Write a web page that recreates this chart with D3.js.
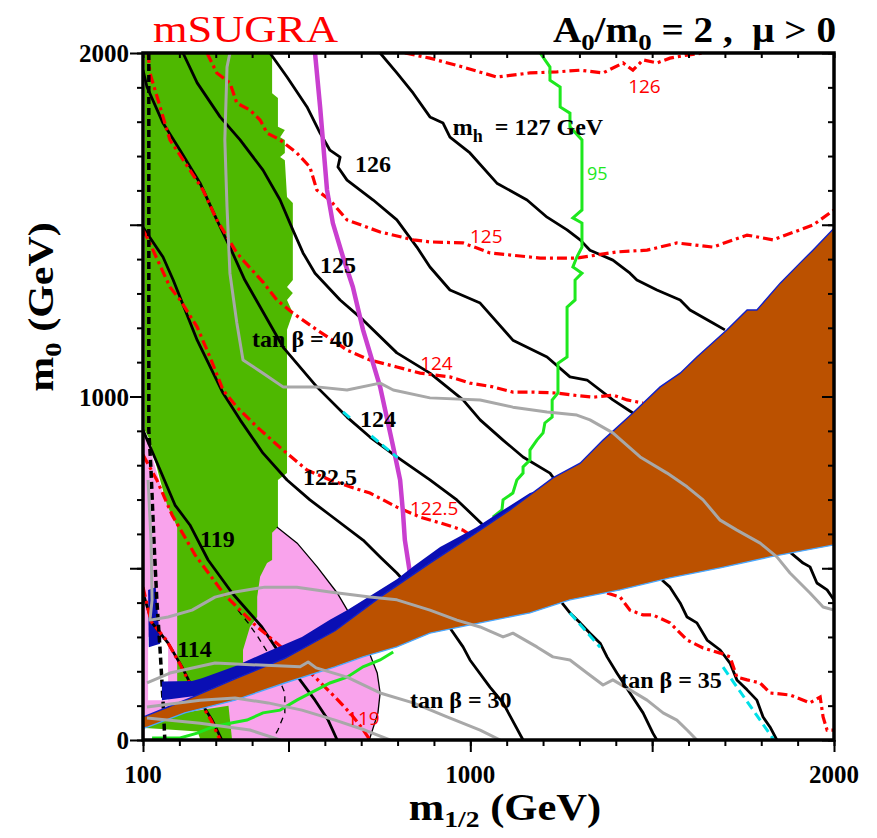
<!DOCTYPE html>
<html><head><meta charset="utf-8">
<script src="https://cdn.jsdelivr.net/npm/d3@7"></script>
<style>
html,body{margin:0;padding:0;background:#fff;}
svg{display:block;}
text{white-space:pre;}
</style></head><body>
<svg id="chart" width="877" height="838"></svg>
<script>
// ---------------- DATA (m1/2 [GeV], m0 [GeV]) ----------------
const xMinorTicks = [100,200,300,400,500,600,700,800,900,1000,1100,1200,1300,1400,1500,1600,1700,1800,1900,2000];
const yMinorTicks = [0,100,200,300,400,500,600,700,800,900,1000,1100,1200,1300,1400,1500,1600,1700,1800,1900,2000];
const xMajorTicks = [100,500,1000,1500,2000];
const yMajorTicks = [0,500,1000,1500,2000];
const xTickLabels = [100,1000,2000];
const yTickLabels = [0,1000,2000];

const greenRegion = [[105,2000],[455,2000],[455,1883],[471,1869],[471,1785],[490,1776],[477,1755],[490,1747],[490,1709],[477,1697],[490,1688],[496,1581],[512,1563],[512,1339],[496,1319],[512,1301],[496,1281],[512,1243],[496,1194],[496,777],[471,757],[471,620],[455,603],[455,524],[441,515],[422,475],[414,416],[414,358],[394,329],[375,262],[375,218],[194,146],[194,620],[166,684],[147,757],[119,873],[105,902]];
const greenBottom = [[105,62],[335,100],[345,0],[105,0]];
const pinkRegion = [[100,905],[116,860],[135,790],[160,700],[185,640],[300,625],[468,620],[524,573],[579,504],[634,428],[678,349],[716,271],[744,195],[752,137],[746,79],[724,6],[722,0],[100,0]];
const pinkBoundary = [[468,620],[524,573],[579,504],[634,428],[678,349],[716,271],[744,195],[752,137],[746,79],[724,6],[722,0]];
const whiteLeft = [[114,300],[169,290],[169,116],[114,116]];
const whiteBottom = [[105,35],[150,32],[250,25],[258,0],[105,0]];
const blueStrip = [[114,437],[135,445],[147,280],[116,270]];
const blueTop = [[1192,728],[1164,719],[1073,658],[1018,620],[963,588],[917,562],[843,505],[798,468],[733,425],[661,378],[614,350],[537,300],[444,258],[353,215],[262,180],[235,172],[152,170],[152,116]];
const brownUpper = [[100,68],[108,70],[169,96],[243,128],[353,178],[490,238],[628,318],[752,416],[889,515],[999,591],[1109,670],[1227,763],[1302,806],[1365,873],[1447,952],[1522,1028],[1577,1068],[1623,1115],[1706,1194],[1761,1252],[1788,1252],[1852,1330],[1907,1389],[1942,1426],[2000,1490]];
const brownLower = [[2000,568],[1824,533],[1687,501],[1549,472],[1412,437],[1274,408],[1164,370],[1027,341],[889,311],[798,271],[705,242],[628,213],[490,166],[353,116],[215,79],[114,38],[100,34]];

// black m_h contours
const mh127 = [[752,2000],[798,1942],[843,1883],[889,1814],[925,1796],[944,1755],[999,1709],[1073,1621],[1156,1572],[1211,1522],[1266,1485],[1302,1456],[1329,1426],[1392,1397],[1439,1359],[1458,1339],[1513,1310],[1577,1281],[1604,1252],[1667,1214],[1700,1194]];
const mh126 = [[449,2000],[496,1930],[551,1843],[587,1767],[614,1717],[642,1697],[636,1668],[661,1630],[733,1572],[798,1514],[853,1435],[889,1377],[944,1310],[1027,1272],[1117,1164],[1211,1115],[1274,1057],[1321,1048],[1392,990],[1447,952]];
const mh126b = [[1879,547],[1915,515],[1934,504],[1953,457],[1981,437],[2000,408]];
const mh125 = [[210,2000],[249,1913],[312,1814],[367,1747],[430,1659],[477,1572],[512,1485],[540,1418],[573,1359],[642,1281],[705,1223],[798,1127],[889,1068],[980,990],[1027,932],[1090,873],[1145,824],[1219,777],[1233,757]];
const mh125b = [[1527,466],[1549,445],[1577,399],[1596,358],[1623,341],[1651,291],[1687,262],[1714,224],[1733,175],[1761,146],[1788,116],[1805,67],[1824,38],[1843,0]];
const mh124 = [[100,1950],[111,1901],[155,1796],[202,1717],[257,1621],[303,1514],[339,1435],[380,1339],[485,1144],[578,1028],[661,940],[724,882],[798,824],[889,757],[963,699],[1035,626]];
const mh124b = [[1252,399],[1274,370],[1302,341],[1329,311],[1357,282],[1376,242],[1403,195],[1439,137],[1475,79],[1502,20],[1513,0]];
const mh122 = [[100,1493],[155,1406],[183,1339],[249,1164],[320,1010],[367,932],[430,835],[496,757],[559,699],[614,655],[705,582],[752,533],[798,486],[820,460]];
const mh122b = [[944,326],[980,271],[999,233],[1054,154],[1090,108],[1145,0]];
const mh119 = [[100,902],[147,786],[188,684],[229,626],[279,524],[345,428],[427,329],[482,242],[526,183],[573,116],[609,58],[634,0]];
const mh114 = [[100,428],[125,341],[169,282],[207,213],[243,137],[290,58],[317,0]];

// red (second code) m_h contours
const rd126 = [[820,2000],[889,1985],[980,1959],[1073,1930],[1164,1942],[1238,1945],[1302,1950],[1365,1942],[1420,1971],[1447,1950],[1475,1980],[1513,1971],[1549,1985],[1596,1994],[1640,2000]];
const rd125 = [[276,2000],[303,1942],[339,1913],[358,1854],[394,1834],[422,1805],[441,1767],[477,1747],[523,1709],[559,1668],[578,1601],[614,1572],[661,1514],[752,1479],[843,1456],[889,1450],[980,1447],[1054,1418],[1192,1403],[1293,1403],[1403,1421],[1486,1426],[1568,1447],[1667,1435],[1761,1470],[1832,1456],[1942,1499],[2000,1543]];
const rd124 = [[114,2000],[119,1942],[147,1843],[174,1747],[229,1659],[265,1601],[303,1514],[358,1418],[380,1391],[430,1333],[468,1281],[512,1243],[578,1194],[633,1156],[661,1135],[724,1106],[798,1086],[862,1068],[944,1057],[999,1039],[1062,1028],[1117,1013],[1172,1013],[1238,1010],[1282,1004],[1337,998],[1392,1004],[1431,990],[1475,981]];
const rd124b = [[1376,428],[1412,416],[1439,378],[1475,364],[1502,364],[1549,341],[1596,291],[1640,268],[1687,253],[1714,242],[1733,183],[1761,175],[1797,166],[1824,137],[1879,131],[1934,108],[1962,125],[1970,67],[1981,29],[2000,29]];
const rd122 = [[100,1485],[111,1464],[174,1319],[202,1281],[249,1202],[284,1115],[320,1019],[358,969],[414,911],[485,844],[551,786],[614,757],[669,737],[724,719],[798,678],[862,649],[917,632],[980,611],[1007,591]];
const rd119 = [[100,830],[138,757],[180,655],[243,539],[325,422],[408,335],[490,262],[573,183],[628,125],[669,79],[702,35],[724,0]];
const rd114 = [[100,445],[122,345],[165,290],[203,218],[240,140],[287,58],[312,0]];

// tan beta contours (grey)
const tb40 = [[339,2000],[331,1959],[325,1747],[331,1552],[339,1359],[358,1214],[375,1106],[430,1068],[485,1028],[578,1028],[661,1019],[752,1039],[788,1019],[889,996],[1027,990],[1117,969],[1211,955],[1293,946],[1329,932],[1392,894],[1467,824],[1541,777],[1596,737],[1640,699],[1687,640],[1733,611],[1797,573],[1843,533],[1879,486],[1934,428],[1970,387],[2000,378]];
const tb35 = [[114,757],[122,582],[125,408],[119,349],[169,358],[235,378],[298,416],[353,431],[435,445],[523,445],[614,431],[724,416],[798,408],[889,378],[963,349],[1027,329],[1090,300],[1117,311],[1183,271],[1227,242],[1274,233],[1321,195],[1365,160],[1392,175],[1439,146],[1486,116],[1530,79],[1568,58],[1596,29],[1623,0]];
const tb30 = [[111,166],[174,195],[298,224],[422,218],[532,213],[554,227],[576,210],[661,183],[752,137],[843,108],[936,67],[1027,29],[1082,0]];
const tbLow1 = [[111,96],[257,116],[353,122],[444,108],[537,87],[628,58],[710,29],[779,0]];
const tbLow2 = [[111,64],[257,49],[394,29],[477,0]];

// other constraint curves
const line95 = [[1192,2000],[1219,1959],[1219,1921],[1247,1901],[1247,1843],[1274,1825],[1274,1785],[1307,1747],[1307,1543],[1282,1520],[1307,1505],[1307,1435],[1293,1406],[1282,1377],[1307,1359],[1288,1339],[1288,1281],[1266,1260],[1266,1115],[1241,1097],[1241,1010],[1225,990],[1225,940],[1205,923],[1200,894],[1183,873],[1164,844],[1164,815],[1145,795],[1145,777],[1128,757],[1117,719],[1090,699],[1087,670],[1062,649]];
const line95b = [[788,256],[752,233],[705,213],[661,183],[614,166],[523,116],[477,87],[430,79],[386,58],[339,49],[292,38],[249,20],[202,6],[125,6]];
const magentaCurve = [[573,2000],[587,1843],[606,1601],[622,1505],[650,1406],[677,1319],[705,1194],[752,1028],[788,853],[807,757],[815,661],[820,582],[834,486]];
const cyanSegments = [[[650,955],[672,935]],[[728,885],[800,822]],[[1274,370],[1357,270]],[[1695,212],[1835,0]]];
const thinDashed = [[361,378],[389,341],[416,300],[444,253],[490,137],[490,79],[471,29],[455,0]];
const thickDashed = [[116,2000],[116,902],[122,786],[130,582],[138,408],[147,262],[155,116],[160,0]];

// labels: text with anchor (m1/2, m0)
const blackLabels = [["126",683,1653],["125",587,1359],["124",697,911],["122.5",540,742],["119",257,562],["114",194,242]];
const redLabels = [["126",1434,1883],["125",999,1447],["124",862,1077],["122.5",834,655],["119",661,44]];
const greenLabel = ["95",1321,1630];
const tanbLabels = [["40",400,1144],["30",834,93],["35",1412,151]];
const mhLabel = ["127",952,1761];

// ---------------- DRAWING ----------------
const svg = d3.select("#chart");
const x = d3.scaleLinear().domain([100,2000]).range([143,834]);
const y = d3.scaleLinear().domain([0,2000]).range([740,53]);
const line = d3.line().x(d=>x(d[0])).y(d=>y(d[1]));
const poly = pts => line(pts) + "Z";
const SERIF = "'Liberation Serif','Times New Roman',serif";
const SANS = "'Open Sans','Liberation Sans',sans-serif";

svg.append("defs").append("clipPath").attr("id","clip")
  .append("rect").attr("x",x(100)).attr("y",y(2000)).attr("width",x(2000)-x(100)).attr("height",y(0)-y(2000));
const plot = svg.append("g").attr("clip-path","url(#clip)");

// regions
plot.append("path").attr("d",poly(pinkRegion)).attr("fill","#f9a3ec");
plot.append("path").attr("d",poly(greenRegion)).attr("fill","#4eb800");
plot.append("path").attr("d",poly(greenBottom)).attr("fill","#4eb800");
plot.append("path").attr("d",poly(whiteLeft)).attr("fill","#ffffff");
plot.append("path").attr("d",poly(whiteBottom)).attr("fill","#ffffff");
plot.append("path").attr("d",poly(blueStrip)).attr("fill","#0a0fb0");
plot.append("path").attr("d",line(pinkBoundary)).attr("fill","none").attr("stroke","#000").attr("stroke-width",1.3);
plot.append("path").attr("d",line(thinDashed)).attr("fill","none").attr("stroke","#000").attr("stroke-width",1.3).attr("stroke-dasharray","6,5");

// black contours
[mh127,mh126,mh126b,mh125,mh125b,mh124,mh124b,mh122,mh122b,mh119,mh114].forEach(c=>{
  plot.append("path").attr("d",line(c)).attr("fill","none").attr("stroke","#000").attr("stroke-width",2.8).attr("stroke-linejoin","round");
});
// red contours
[rd126,rd125,rd124,rd124b,rd122,rd119,rd114].forEach(c=>{
  plot.append("path").attr("d",line(c)).attr("fill","none").attr("stroke","#ff0000").attr("stroke-width",3.2).attr("stroke-dasharray","10,4,3,4");
});
// magenta
plot.append("path").attr("d",line(magentaCurve)).attr("fill","none").attr("stroke","#c93fcf").attr("stroke-width",4.5);
// green 95 line
[line95,line95b].forEach(c=>{
  plot.append("path").attr("d",line(c)).attr("fill","none").attr("stroke","#1ee81e").attr("stroke-width",3);
});
// cyan dashed
cyanSegments.forEach(c=>{
  plot.append("path").attr("d",line(c)).attr("fill","none").attr("stroke","#00e0e8").attr("stroke-width",3).attr("stroke-dasharray","9,5");
});
// thick dashed black near left axis
plot.append("path").attr("d",line(thickDashed)).attr("fill","none").attr("stroke","#000").attr("stroke-width",3.5).attr("stroke-dasharray","7,4");

// blue band and brown region
const blueBottom = brownUpper.filter(p=>p[0]>=243 && p[0]<=1192);
plot.append("path").attr("d",poly(blueTop.concat(blueBottom))).attr("fill","#0a0fb4");
plot.append("path").attr("d",poly(brownUpper.concat(brownLower))).attr("fill","#bb5100");
plot.append("path").attr("d",line(brownUpper)).attr("fill","none").attr("stroke","#1020c8").attr("stroke-width",1.4);
plot.append("path").attr("d",line(brownLower)).attr("fill","none").attr("stroke","#4aa8ff").attr("stroke-width",1.4);

// grey tan beta lines
[tb40,tb35,tb30,tbLow1,tbLow2].forEach(c=>{
  plot.append("path").attr("d",line(c)).attr("fill","none").attr("stroke","#a8a8a8").attr("stroke-width",3).attr("stroke-linejoin","round");
});

// ---------- labels inside plot ----------
const lab = svg.append("g");
blackLabels.forEach(d=>{
  lab.append("text").attr("x",x(d[1])).attr("y",y(d[2])).text(d[0])
    .attr("font-family",SERIF).attr("font-weight","bold").attr("font-size",24).attr("fill","#000");
});
redLabels.forEach(d=>{
  lab.append("text").attr("x",x(d[1])).attr("y",y(d[2])).text(d[0])
    .attr("font-family",SANS).attr("font-size",19).attr("fill","#ff0000");
});
lab.append("text").attr("x",x(greenLabel[1])).attr("y",y(greenLabel[2])).text(greenLabel[0])
  .attr("font-family",SANS).attr("font-size",18).attr("fill","#1ee81e");
tanbLabels.forEach(d=>{
  lab.append("text").attr("x",x(d[1])).attr("y",y(d[2])).text("tan β = "+d[0])
    .attr("font-family",SERIF).attr("font-weight","bold").attr("font-size",24).attr("fill","#000");
});
{
  const t = lab.append("text").attr("x",x(mhLabel[1])).attr("y",y(mhLabel[2]))
    .attr("font-family",SERIF).attr("font-weight","bold").attr("font-size",24).attr("fill","#000");
  t.append("tspan").text("m");
  t.append("tspan").attr("dy",7).attr("font-size",18).text("h");
  t.append("tspan").attr("dy",-7).text("  = "+mhLabel[0]+" GeV");
}

// ---------- axes ----------
const ax = svg.append("g");
function styleAxis(g){ g.select(".domain").remove(); g.selectAll(".tick line").attr("stroke","#000").attr("stroke-width",2); g.selectAll(".tick text").remove(); }
ax.append("g").attr("transform",`translate(0,${y(0)})`).call(d3.axisBottom(x).tickValues(xMinorTicks).tickSize(6)).call(styleAxis);
ax.append("g").attr("transform",`translate(0,${y(0)})`).call(d3.axisBottom(x).tickValues(xMajorTicks).tickSize(12)).call(styleAxis);
ax.append("g").attr("transform",`translate(0,${y(2000)})`).call(d3.axisBottom(x).tickValues(xMinorTicks).tickSize(5)).call(styleAxis);
ax.append("g").attr("transform",`translate(${x(100)},0)`).call(d3.axisLeft(y).tickValues(yMinorTicks).tickSize(6)).call(styleAxis);
ax.append("g").attr("transform",`translate(${x(100)},0)`).call(d3.axisLeft(y).tickValues(yMajorTicks).tickSize(13)).call(styleAxis);
ax.append("g").attr("transform",`translate(${x(2000)},0)`).call(d3.axisLeft(y).tickValues(yMinorTicks).tickSize(6)).call(styleAxis);
ax.append("g").attr("transform",`translate(${x(2000)},0)`).call(d3.axisLeft(y).tickValues(yMajorTicks).tickSize(12)).call(styleAxis);

svg.append("rect").attr("x",x(100)).attr("y",y(2000)).attr("width",x(2000)-x(100)).attr("height",y(0)-y(2000))
  .attr("fill","none").attr("stroke","#000").attr("stroke-width",3.5);

xTickLabels.forEach(v=>{
  svg.append("text").attr("x",x(v)).attr("y",y(0)+43).attr("text-anchor","middle").text(v)
    .attr("font-family",SERIF).attr("font-weight","bold").attr("font-size",25);
});
yTickLabels.forEach(v=>{
  svg.append("text").attr("x",x(100)-14).attr("y",y(v)+9).attr("text-anchor","end").text(v)
    .attr("font-family",SERIF).attr("font-weight","bold").attr("font-size",25);
});

// axis titles
{
  const t = svg.append("text").attr("transform",`translate(505,820) scale(1.15,1)`).attr("text-anchor","middle")
    .attr("font-family",SERIF).attr("font-weight","bold").attr("font-size",37);
  t.append("tspan").text("m");
  t.append("tspan").attr("dy",7).attr("font-size",24).text("1/2");
  t.append("tspan").attr("dy",-7).text(" (GeV)");
}
{
  const t = svg.append("text").attr("transform",`translate(53,307) rotate(-90) scale(1.2,1)`).attr("text-anchor","middle")
    .attr("font-family",SERIF).attr("font-weight","bold").attr("font-size",35);
  t.append("tspan").text("m");
  t.append("tspan").attr("dy",8).attr("font-size",24).text("0");
  t.append("tspan").attr("dy",-8).text(" (GeV)");
}
// titles
svg.append("text").attr("transform","translate(153,42) scale(1.2,1)").text("mSUGRA")
  .attr("font-family",SERIF).attr("font-size",37).attr("fill","#ff0000");
{
  const t = svg.append("text").attr("transform","translate(836,42) scale(1.12,1)").attr("text-anchor","end")
    .attr("font-family",SERIF).attr("font-weight","bold").attr("font-size",35);
  t.append("tspan").text("A");
  t.append("tspan").attr("dy",8).attr("font-size",24).text("0");
  t.append("tspan").attr("dy",-8).text("/m");
  t.append("tspan").attr("dy",8).attr("font-size",24).text("0");
  t.append("tspan").attr("dy",-8).text(" = 2 ,  μ > 0");
}
</script></body></html>
